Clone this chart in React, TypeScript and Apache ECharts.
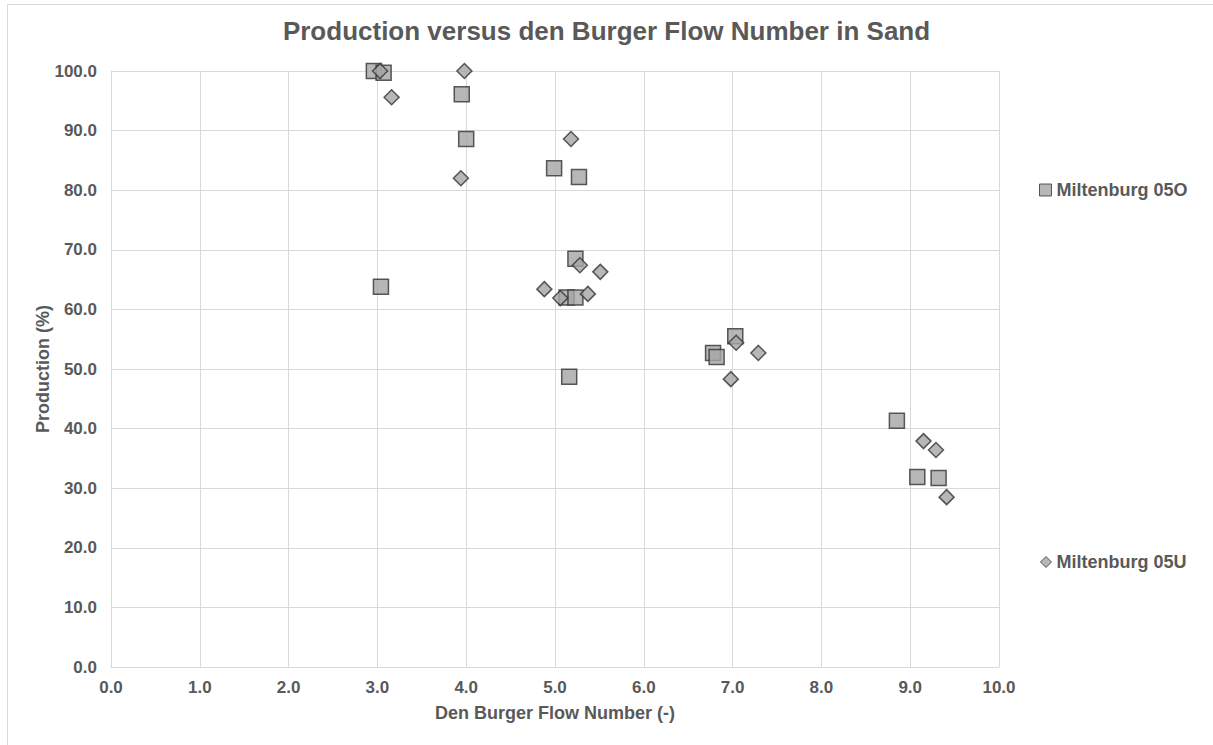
import React, { useEffect, useRef } from "react";
import * as echarts from "echarts";

const titleText = "Production versus den Burger Flow Number in Sand";
const xAxisName = "Den Burger Flow Number (-)";
const yAxisName = "Production (%)";
const seriesNames = ["Miltenburg 05O", "Miltenburg 05U"];

const x05O = [2.96, 3.07, 3.95, 4.0, 4.99, 5.27, 5.23, 3.04, 5.13, 5.23, 5.16, 7.03, 6.78, 6.82, 8.85, 9.08, 9.32];
const y05O = [100.0, 99.7, 96.1, 88.6, 83.7, 82.2, 68.5, 63.8, 62.0, 62.0, 48.7, 55.5, 52.7, 52.0, 41.3, 31.9, 31.7];

const x05U = [3.03, 3.16, 3.98, 3.94, 5.18, 5.28, 5.51, 4.88, 5.06, 5.37, 7.04, 7.29, 6.98, 9.15, 9.29, 9.41];
const y05U = [100.0, 95.6, 100.0, 82.0, 88.6, 67.4, 66.3, 63.4, 61.9, 62.6, 54.4, 52.7, 48.3, 37.9, 36.4, 28.5];

const FONT = "'Liberation Sans', Arial, sans-serif";
const TXT = "#595959";
const GRID = "#d9d9d9";

export default function App() {
  const ref = useRef<HTMLDivElement>(null);
  useEffect(() => {
    document.body.style.margin = "0";
    if (!ref.current) return;
    const chart = echarts.init(ref.current, null, { renderer: "svg" });
    const markerStyle = { color: "#a5a5a5", borderColor: "#333333", borderWidth: 1.5 };
    chart.setOption({
      animation: false,
      backgroundColor: "#ffffff",
      textStyle: { fontFamily: FONT },
      title: {
        text: titleText,
        left: "center",
        top: 13,
        textStyle: { fontFamily: FONT, fontSize: 26, fontWeight: "bold", color: TXT },
      },
      grid: { left: 111, top: 71, right: 214, bottom: 78, containLabel: false },
      graphic: [
        {
          type: "rect",
          shape: { x: 7.5, y: 4.5, width: 1215, height: 760 },
          style: { fill: "none", stroke: GRID, lineWidth: 1 },
          silent: true,
        },
      ],
      legend: [
        {
          orient: "vertical",
          left: 1034,
          top: 176,
          itemWidth: 12,
          itemHeight: 12,
          itemGap: 4,
          data: [{ name: seriesNames[0], icon: "rect" }],
          itemStyle: { borderColor: "#333333", borderWidth: 1 },
          textStyle: { fontFamily: FONT, fontSize: 18, fontWeight: "bold", color: TXT },
        },
        {
          orient: "vertical",
          left: 1035,
          top: 548,
          itemWidth: 11,
          itemHeight: 11,
          itemGap: 4,
          data: [{ name: seriesNames[1], icon: "diamond" }],
          itemStyle: { borderColor: "#333333", borderWidth: 1 },
          textStyle: { fontFamily: FONT, fontSize: 18, fontWeight: "bold", color: TXT },
        },
      ],
      xAxis: {
        type: "value",
        min: 0,
        max: 10,
        interval: 1,
        name: xAxisName,
        nameLocation: "middle",
        nameGap: 37,
        nameMoveOverlap: false,
        nameTextStyle: { fontFamily: FONT, fontSize: 18, fontWeight: "bold", color: TXT },
        axisLine: { show: true, lineStyle: { color: GRID, width: 1 } },
        axisTick: { show: false },
        axisLabel: {
          formatter: (v: number) => v.toFixed(1),
          fontFamily: FONT,
          fontSize: 17,
          fontWeight: "bold",
          color: TXT,
          margin: 12,
        },
        splitLine: { show: true, lineStyle: { color: GRID, width: 1 } },
      },
      yAxis: {
        type: "value",
        min: 0,
        max: 100,
        interval: 10,
        name: yAxisName,
        nameLocation: "middle",
        nameGap: 59,
        nameMoveOverlap: false,
        nameRotate: 90,
        nameTextStyle: { fontFamily: FONT, fontSize: 18, fontWeight: "bold", color: TXT },
        axisLine: { show: true, lineStyle: { color: GRID, width: 1 } },
        axisTick: { show: false },
        axisLabel: {
          formatter: (v: number) => v.toFixed(1),
          fontFamily: FONT,
          fontSize: 17,
          fontWeight: "bold",
          color: TXT,
          margin: 14,
        },
        splitLine: { show: true, lineStyle: { color: GRID, width: 1 } },
      },
      series: [
        {
          name: seriesNames[0],
          type: "scatter",
          symbol: "rect",
          symbolSize: 15,
          itemStyle: markerStyle,
          data: x05O.map((x, i) => [x, y05O[i]]),
        },
        {
          name: seriesNames[1],
          type: "scatter",
          symbol: "diamond",
          symbolSize: 15,
          itemStyle: markerStyle,
          data: x05U.map((x, i) => [x, y05U[i]]),
        },
      ],
    });
    return () => chart.dispose();
  }, []);
  return <div ref={ref} style={{ width: 1213, height: 745 }} />;
}
